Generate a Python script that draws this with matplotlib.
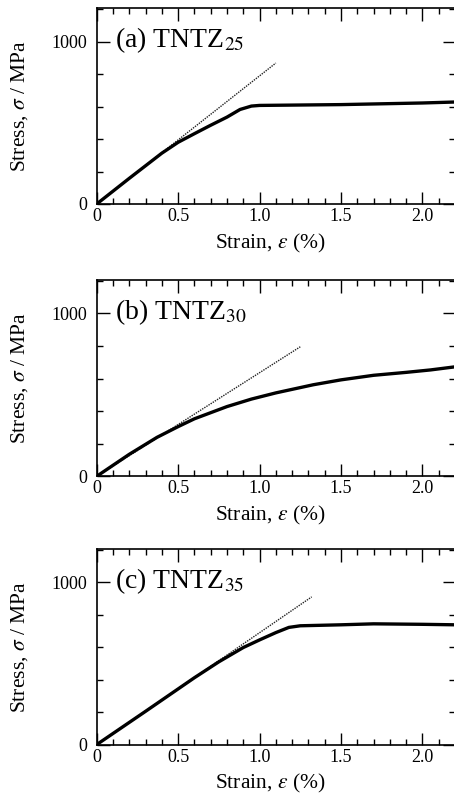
import matplotlib
matplotlib.use("Agg")
import matplotlib.pyplot as plt
from matplotlib.ticker import MultipleLocator

plt.rcParams["font.family"] = ["Liberation Serif", "DejaVu Serif"]
plt.rcParams["mathtext.fontset"] = "stix"

# Panel labels
labels = ["(a) TNTZ$_{25}$", "(b) TNTZ$_{30}$", "(c) TNTZ$_{35}$"]

# Stress-strain curves (strain in %, stress in MPa)
strain_a = [0, 0.2, 0.4, 0.5, 0.6, 0.7, 0.8, 0.88, 0.95, 1.0, 1.5, 2.0, 2.2]
stress_a = [0, 158, 313, 380, 433, 485, 535, 582, 603, 607, 612, 622, 628]

strain_b = [0, 0.2, 0.37, 0.5, 0.6, 0.8, 0.95, 1.1, 1.33, 1.5, 1.7, 1.9, 2.05, 2.2]
stress_b = [0, 135, 239, 305, 353, 428, 474, 512, 562, 592, 620, 638, 653, 672]

strain_c = [0, 0.3, 0.6, 0.75, 0.9, 1.0, 1.1, 1.18, 1.25, 1.5, 1.7, 2.0, 2.2]
stress_c = [0, 205, 412, 510, 598, 645, 690, 722, 732, 738, 744, 741, 738]

# Elastic (dotted) lines: start and end points
elastic_a = ([0, 1.1], [0, 868])
elastic_b = ([0, 1.25], [0, 795])
elastic_c = ([0, 1.32], [0, 910])

strains = [strain_a, strain_b, strain_c]
stresses = [stress_a, stress_b, stress_c]
elastics = [elastic_a, elastic_b, elastic_c]

W, H = 454, 801
fig = plt.figure(figsize=(W / 100, H / 100), dpi=100)

# axes boxes in pixels: (top, bottom)
boxes = [(8.3, 204.0), (280.0, 476.3), (549.0, 744.6)]
left_px, right_px = 96.7, 455.0

for i in range(3):
	top, bot = boxes[i]
	ax = fig.add_axes([left_px / W, 1 - bot / H, (right_px - left_px) / W, (bot - top) / H])
	ax.plot(strains[i], stresses[i], color="black", linewidth=2.4, solid_capstyle="round",
		solid_joinstyle="round", zorder=3)
	ax.plot(elastics[i][0], elastics[i][1], color="#222222", linewidth=1.0, linestyle=(0, (1, 0.8)), zorder=2)

	ax.set_xlim(0, 2.2)
	ax.set_ylim(0, 1205)
	ax.xaxis.set_major_locator(MultipleLocator(0.5))
	ax.xaxis.set_minor_locator(MultipleLocator(0.1))
	ax.yaxis.set_major_locator(MultipleLocator(1000))
	ax.yaxis.set_minor_locator(MultipleLocator(200))
	ax.set_xticks([0, 0.5, 1.0, 1.5, 2.0])
	ax.set_xticklabels(["0", "0.5", "1.0", "1.5", "2.0"])

	ax.tick_params(which="both", direction="in", top=True, right=True, width=1.0)
	ax.tick_params(which="major", length=9)
	ax.tick_params(which="minor", length=4.5)
	ax.tick_params(axis="x", which="major", labelsize=13, pad=3)
	ax.tick_params(axis="y", which="major", labelsize=13, pad=7)
	for sp in ax.spines.values():
		sp.set_linewidth(1.2)

	ax.set_xlabel(r"Strain, $\varepsilon$ (%)", fontsize=15.5, va="center")
	ax.xaxis.set_label_coords(0.484, -0.2)
	ax.set_ylabel(r"Stress, $\sigma$ / MPa", fontsize=15.5, va="center")
	ax.yaxis.set_label_coords(-0.215, 0.5)

	ax.text(0.11, 965, labels[i], fontsize=20, ha="left", va="baseline")

plt.savefig("out.png", dpi=100)
